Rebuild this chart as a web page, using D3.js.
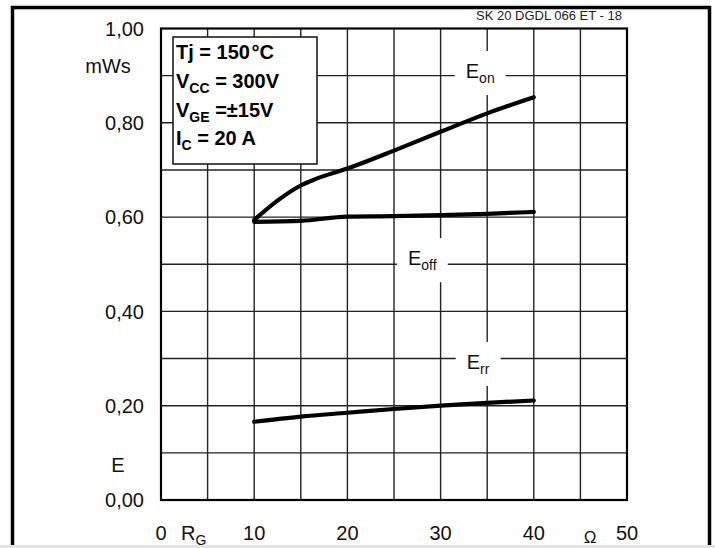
<!DOCTYPE html>
<html>
<head>
<meta charset="utf-8">
<script src="https://cdn.jsdelivr.net/npm/d3@7"></script>
<style>
  html, body { margin: 0; padding: 0; background: #fff; }
  svg { display: block; font-family: 'Liberation Sans', Arial, Helvetica, sans-serif; }
</style>
</head>
<body>
<div id="chart"></div>
<script>
// Switching energy vs. gate resistor
const rgOn = [10, 12.5, 15, 16.5, 20, 25, 30, 35, 40];
const eOn = [0.594, 0.635, 0.667, 0.680, 0.703, 0.741, 0.781, 0.820, 0.854];
const rgOff = [10, 15, 20, 25, 30, 35, 40];
const eOff = [0.590, 0.592, 0.601, 0.602, 0.604, 0.607, 0.611];
const rgRr = [10, 15, 20, 25, 30, 35, 40];
const eRr = [0.166, 0.177, 0.185, 0.193, 0.200, 0.206, 0.211];

const xTicks = [0, 10, 20, 30, 40, 50];
const yTicks = [0, 0.2, 0.4, 0.6, 0.8, 1.0];
const xGrid = [5, 10, 15, 20, 25, 30, 35, 40, 45];
const yGrid = [0.1, 0.2, 0.3, 0.4, 0.5, 0.6, 0.7, 0.8, 0.9];

const conditions = [
  { main: 'Tj = 150\u200A°C', sub: '', rest: '' },
  { main: 'V', sub: 'CC', rest: ' = 300V' },
  { main: 'V', sub: 'GE', rest: ' =±15V' },
  { main: 'I', sub: 'C', rest: ' = 20 A' },
];

// curve labels: anchor in data units (x = Ω, y = baseline value)
const curveLabels = [
  { main: 'E', sub: 'on', rg: 32.7, e: 0.895 },
  { main: 'E', sub: 'off', rg: 26.5, e: 0.498 },
  { main: 'E', sub: 'rr', rg: 32.8, e: 0.278 },
];

const W = 715;
const H = 548;

const x = d3.scaleLinear().domain([0, 50]).range([161, 627]);
const y = d3.scaleLinear().domain([0, 1]).range([500, 28.5]);

const svg = d3.select('#chart').append('svg')
  .attr('width', W)
  .attr('height', H);

svg.append('rect').attr('width', W).attr('height', H).attr('fill', '#fff');

// outer page border (scan edges)
svg.append('path')
  .attr('d', 'M12.5,548 V7.5 H709.5 V548')
  .attr('fill', 'none')
  .attr('stroke', '#000')
  .attr('stroke-width', 3.5);
svg.append('rect')
  .attr('x', 0).attr('y', 545)
  .attr('width', W).attr('height', 3)
  .attr('fill', '#e4e4e4');

svg.append('text')
  .text('SK 20 DGDL 066 ET  - 18')
  .attr('x', 622)
  .attr('y', 20)
  .attr('text-anchor', 'end')
  .attr('font-size', 13)
  .attr('fill', '#222');

// grid
const grid = svg.append('g').attr('stroke', '#222').attr('stroke-width', 1.4);
grid.selectAll('line.v').data(xGrid).enter().append('line')
  .attr('x1', d => x(d)).attr('x2', d => x(d))
  .attr('y1', y(0)).attr('y2', y(1));
grid.selectAll('line.h').data(yGrid).enter().append('line')
  .attr('x1', x(0)).attr('x2', x(50))
  .attr('y1', d => y(d)).attr('y2', d => y(d));

svg.append('rect')
  .attr('x', x(0)).attr('y', y(1))
  .attr('width', x(50) - x(0)).attr('height', y(0) - y(1))
  .attr('fill', 'none')
  .attr('stroke', '#000')
  .attr('stroke-width', 2.2);

// tick labels
svg.selectAll('text.ytick').data(yTicks).enter().append('text')
  .attr('class', 'ytick')
  .text(d => d.toFixed(2).replace('.', ','))
  .attr('x', 144)
  .attr('y', d => y(d))
  .attr('dy', '0.36em')
  .attr('text-anchor', 'end')
  .attr('font-size', 20)
  .attr('fill', '#111');

svg.selectAll('text.xtick').data(xTicks).enter().append('text')
  .attr('class', 'xtick')
  .text(d => d)
  .attr('x', d => x(d))
  .attr('y', 540)
  .attr('text-anchor', 'middle')
  .attr('font-size', 20)
  .attr('fill', '#111');

// axis names
svg.append('text').text('mWs')
  .attr('x', 108).attr('y', y(0.92)).attr('dy', '0.36em')
  .attr('text-anchor', 'middle').attr('font-size', 20).attr('fill', '#111');
svg.append('text').text('E')
  .attr('x', 118).attr('y', y(0.075)).attr('dy', '0.36em')
  .attr('text-anchor', 'middle').attr('font-size', 20).attr('fill', '#111');

const rgLabel = svg.append('text')
  .attr('x', 181).attr('y', 540)
  .attr('font-size', 20).attr('fill', '#111');
rgLabel.append('tspan').text('R');
rgLabel.append('tspan').text('G').attr('font-size', 14).attr('dy', 5);

svg.append('text').text('Ω')
  .attr('x', 590).attr('y', 543)
  .attr('text-anchor', 'middle').attr('font-size', 17).attr('fill', '#111');

// curves
const line = d3.line()
  .x(d => x(d[0]))
  .y(d => y(d[1]))
  .curve(d3.curveMonotoneX);

const series = [
  d3.zip(rgOn, eOn),
  d3.zip(rgOff, eOff),
  d3.zip(rgRr, eRr),
];

svg.append('g').selectAll('path').data(series).enter().append('path')
  .attr('d', line)
  .attr('fill', 'none')
  .attr('stroke', '#000')
  .attr('stroke-width', 4.2)
  .attr('stroke-linecap', 'round')
  .attr('stroke-linejoin', 'round');

// curve labels with a white knock-out behind them
curveLabels.forEach(lab => {
  const g = svg.append('g');
  const bg = g.append('rect').attr('fill', '#fff');
  const t = g.append('text')
    .attr('x', x(lab.rg))
    .attr('y', y(lab.e))
    .attr('font-size', 20)
    .attr('fill', '#111');
  t.append('tspan').text(lab.main);
  t.append('tspan').text(lab.sub).attr('font-size', 14).attr('dy', 5);
  const bb = t.node().getBBox();
  bg.attr('x', bb.x - 11).attr('y', bb.y - 9)
    .attr('width', bb.width + 22).attr('height', bb.height + 18);
});

// test conditions box
const box = svg.append('g');
box.append('rect')
  .attr('x', 173).attr('y', 37)
  .attr('width', 144).attr('height', 127)
  .attr('fill', '#fff')
  .attr('stroke', '#111')
  .attr('stroke-width', 1.5);

const baselines = [59, 88, 117, 145];
conditions.forEach((c, i) => {
  const t = box.append('text')
    .attr('x', 176)
    .attr('y', baselines[i])
    .attr('font-size', 20)
    .attr('font-weight', 'bold')
    .attr('fill', '#000');
  t.append('tspan').text(c.main);
  if (c.sub) {
    t.append('tspan').text(c.sub).attr('font-size', 14).attr('dy', 5);
    t.append('tspan').text(c.rest).attr('dy', -5);
  }
});
</script>
</body>
</html>
